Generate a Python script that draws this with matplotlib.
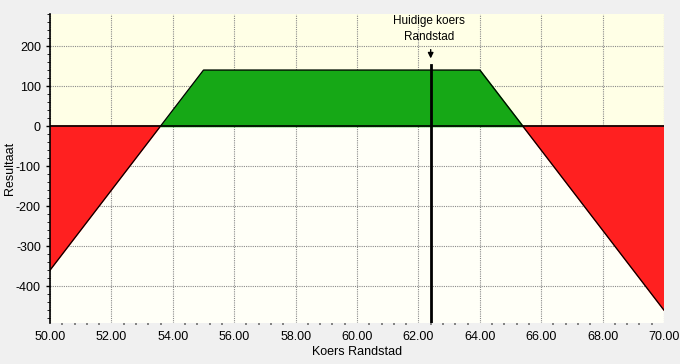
import numpy as np
import matplotlib.pyplot as plt
from matplotlib.ticker import MultipleLocator

plt.rcParams['font.family'] = ['Liberation Sans', 'DejaVu Sans']
plt.rcParams['axes.unicode_minus'] = False

# payoff van de strategie
koers = [50.0, 53.6, 55.0, 64.0, 65.4, 70.0]
resultaat = [-360, 0, 140, 140, 0, -460]
huidige_koers = 62.4

x = np.array(koers)
y = np.array(resultaat)

fig = plt.figure(figsize=(6.8, 3.64), dpi=100, facecolor='#f0f0f0')
ax = fig.add_axes([0.0735, 0.1126, 0.9030, 0.8489])
ax.set_xlim(50, 70)
ax.set_ylim(-492, 280)

# achtergrond boven/onder nul
ax.axhspan(0, 280, color='#ffffe6', zorder=0)
ax.axhspan(-492, 0, color='#fffff7', zorder=0)

ax.fill_between(x, y, 0, where=y >= 0, interpolate=True, color='#16a816', zorder=2)
ax.fill_between(x, y, 0, where=y <= 0, interpolate=True, color='#ff2020', zorder=2)
ax.plot(x, y, color='black', lw=0.9, zorder=3)
ax.axhline(0, color='black', lw=1.2, zorder=3)

# huidige koers
ax.plot([huidige_koers, huidige_koers], [-492, 152], color='black', lw=2, zorder=4)
ax.annotate('', xy=(huidige_koers, 162), xytext=(huidige_koers, 198),
            arrowprops=dict(arrowstyle='-|>', color='black', lw=1, mutation_scale=8))
ax.text(huidige_koers - 0.05, 207, 'Huidige koers\nRandstad', ha='center', va='bottom',
        fontsize=8.5, linespacing=1.5)

ax.xaxis.set_major_locator(MultipleLocator(2))
ax.xaxis.set_minor_locator(MultipleLocator(0.4))
ax.yaxis.set_major_locator(MultipleLocator(100))
ax.yaxis.set_minor_locator(MultipleLocator(20))
ax.set_xticks(np.arange(50, 70.1, 2))
ax.set_xticklabels([f'{v:.2f}' for v in np.arange(50, 70.1, 2)])
ax.set_yticks(np.arange(-400, 201, 100))

ax.grid(True, which='major', color='#8a8a8a', linestyle=(0, (1, 1)), lw=0.8)
ax.set_axisbelow(True)
for sp in ['top', 'right']:
    ax.spines[sp].set_visible(False)
ax.spines['left'].set_linewidth(1.2)
ax.spines['bottom'].set_visible(False)
ax.tick_params(axis='both', labelsize=9, length=3, width=1)
ax.tick_params(axis='x', which='major', length=0, pad=6)
ax.tick_params(axis='x', which='minor', length=1.5, width=1.2, color='#707070')
ax.tick_params(axis='y', which='minor', length=2)

ax.set_xlabel('Koers Randstad', fontsize=9, labelpad=2)
ax.set_ylabel('Resultaat', fontsize=9)
ax.yaxis.set_label_coords(-0.055, 0.5)

fig.savefig('out.png', dpi=100, facecolor=fig.get_facecolor())
